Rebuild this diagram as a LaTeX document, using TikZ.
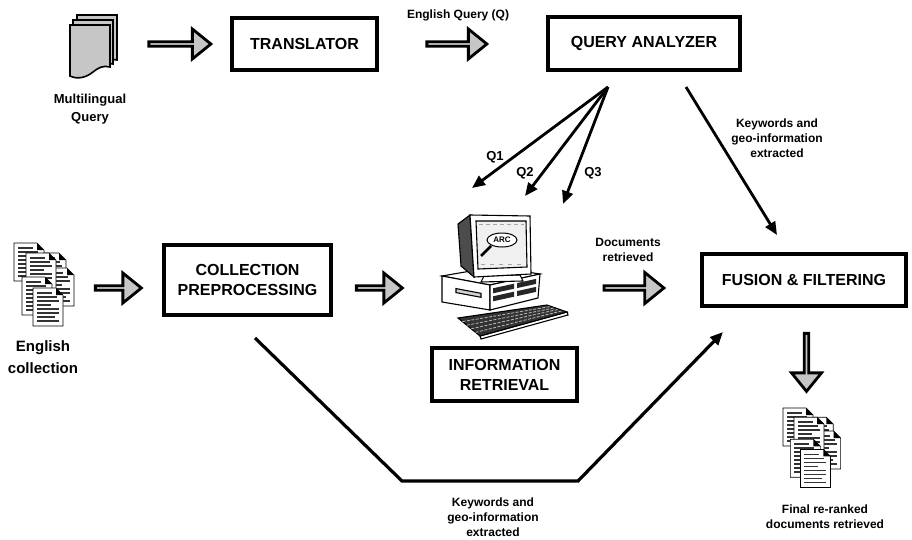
\documentclass[tikz,border=0pt]{standalone}
\usepackage{fontspec}
\setmainfont{Liberation Sans}
\usetikzlibrary{arrows.meta,shapes.arrows}

\tikzset{
  procbox/.style={draw, line width=3.5pt, fill=white, align=center, inner sep=0pt,
    font=\bfseries\fontsize{16}{20}\selectfont},
  fatarrow/.style={single arrow, draw, line width=2.8pt, fill=gray!45, inner sep=0pt,
    single arrow head extend=8pt, single arrow tip angle=78, minimum width=30pt},
  flow/.style={line width=2.8pt, -{Triangle[length=13pt,width=11pt]}},
  lbl/.style={align=center, inner sep=0pt, font=\bfseries\fontsize{12}{15}\selectfont},
  qlbl/.style={inner sep=0pt, font=\bfseries\fontsize{13}{15}\selectfont},
  iconlbl/.style={align=center, inner sep=0pt, font=\bfseries\fontsize{13}{18}\selectfont},
  biglbl/.style={align=center, inner sep=0pt, font=\bfseries\fontsize{15}{22}\selectfont},
  textline/.style={line width=1.6pt, black!80},
  docpage/.pic={
    \fill[white] (0,0) -- (23,0) -- (30,7) -- (30,38) -- (0,38) -- cycle;
    \draw[line width=.7pt] (0,0) -- (23,0) -- (30,7) -- (30,38) -- (0,38) -- cycle;
    \fill (23,0) -- (30,7) -- (23,7) -- cycle;
    \foreach \yy/\ll in {5/15, 9/20, 13/22, 17/14, 21/22, 25/22, 29/18, 33/22}
      \draw[textline] (4,\yy) -- ++(\ll,0);
  },
  docstack/.pic={
    \pic at (22,10) {docpage};
    \pic at (30,25) {docpage};
    \pic at (0,0) {docpage};
    \pic at (12,10) {docpage};
    \pic at (8,34) {docpage};
    \pic at (19,45) {docpage};
  },
}

\begin{document}
\begin{tikzpicture}[x=1pt, y=-1pt]
\useasboundingbox (0,0) rectangle (912,540);

% ---------- multilingual query: three sheets with a wavy lower edge ----------
\begin{scope}[fill=gray!45, line width=1.6pt]
  \filldraw (77,15) -- (117,15) -- (117,60) .. controls (110,58) and (104,60) .. (98,66)
            -- (77,66) -- cycle;
  \filldraw (73,20) -- (113,20) -- (113,64) .. controls (106,62) and (100,64) .. (94,70)
            -- (73,70) -- cycle;
  \filldraw (70,25) -- (110,25) -- (110,67) .. controls (103,65) and (98,68) .. (93,72)
            .. controls (87,77) and (78,80) .. (70,76) -- cycle;
\end{scope}
\node[iconlbl] (mq) at (90,109) {Multilingual\\Query};

% ---------- document stacks ----------
\pic (encoll) at (14,243) {docstack};
\node[biglbl] (eclbl) at (43,357) {English\\collection};
\pic[scale=.92] (final) at (783,408) {docstack};
\node[lbl] (fdlbl) at (825,517) {Final re-ranked\\documents retrieved};

% ---------- process boxes ----------
\node[procbox, minimum width=145pt, minimum height=52pt] (tr) at (304.5,44) {TRANSLATOR};
\node[procbox, minimum width=192pt, minimum height=53pt] (qa) at (644,43.5) {QUERY ANALYZER};
\node[procbox, minimum width=167pt, minimum height=70pt] (cp) at (247.5,280) {COLLECTION\\PREPROCESSING};
\node[procbox, minimum width=145pt, minimum height=53pt] (ir) at (504.5,374.5) {INFORMATION\\RETRIEVAL};
\node[procbox, minimum width=204pt, minimum height=52pt] (ff) at (804,280) {FUSION \& FILTERING};

% ---------- broad grey arrows ----------
\node[fatarrow, minimum height=62pt] (a1) at (178.5,44) {};
\node[fatarrow, minimum height=60pt] (a2) at (455.5,44) {};
\node[fatarrow, minimum height=46pt] (a3) at (117,288) {};
\node[fatarrow, minimum height=46pt] (a4) at (378,288) {};
\node[fatarrow, minimum height=60pt, minimum width=31pt] (a5) at (632.5,288) {};
\node[fatarrow, minimum height=58pt, shape border rotate=270] (a6) at (806.5,361) {};

\node[lbl] (eq) at (458,15) {English Query (Q)};
\node[lbl] (dr) at (628,250) {Documents\\retrieved};

% ---------- computer ----------
\begin{scope}[line width=1.1pt]
  % base unit
  \filldraw[fill=white] (442,276) -- (494,267) -- (540,274) -- (490,285) -- cycle;
  \filldraw[fill=white] (442,276) -- (490,285) -- (490,310) -- (442,302) -- cycle;
  \filldraw[fill=white] (490,285) -- (540,274) -- (538,298) -- (490,310) -- cycle;
  \filldraw[fill=gray!35] (456,288.6) -- (481,293.3) -- (481,297.3) -- (456,292.6) -- cycle;
  \fill[black!85] (493,288.3) -- (514,283.7) -- (514,288.7) -- (493,293.3) -- cycle;
  \fill[black!85] (517,283.1) -- (536,278.9) -- (536,283.9) -- (517,288.1) -- cycle;
  \fill[black!85] (493,296.3) -- (514,291.7) -- (514,296.7) -- (493,301.3) -- cycle;
  \fill[black!85] (517,291.1) -- (536,286.9) -- (536,291.9) -- (517,296.1) -- cycle;
  % monitor stand
  \filldraw[fill=white] (484,276) -- (520,275) -- (523,281) -- (481,282) -- cycle;
  % monitor housing and screen
  \filldraw[fill=black!70] (458,224) -- (470,215) -- (474,277) -- (461,266) -- cycle;
  \filldraw[fill=white] (470,215) -- (530,216) -- (531,274) -- (474,277) -- cycle;
  \filldraw[fill=gray!12] (476,221) -- (526,221) -- (527,267) -- (478,269) -- cycle;
  \draw[gray!70, line width=.6pt, dash pattern=on 4pt off 3pt] (479,224) -- (524,224);
  \draw[gray!70, line width=.6pt, dash pattern=on 4pt off 5pt] (481,264) -- (524,264);
  \draw[line width=2.8pt] (491,246) -- (481,256);
  \filldraw[fill=white, line width=1pt] (502,240) ellipse [x radius=15, y radius=7];
  \node[inner sep=0pt, font=\bfseries\fontsize{8}{8}\selectfont] (arc) at (502,240) {ARC};
  % keyboard
  \filldraw[fill=white] (480,336) -- (567,312) -- (568,315) -- (481,339) -- cycle;
  \filldraw[fill=black!80] (458,318) -- (547,305) -- (567,312) -- (480,336) -- cycle;
  \foreach \ax/\ay/\bx/\by in {462.4/321.6/551/306.4, 466.8/325.2/555/307.8,
                               471.2/328.8/559/309.2, 475.6/332.4/563/310.6}
    \draw[gray!55, line width=.8pt, dash pattern=on 3pt off 1.5pt] (\ax,\ay) -- (\bx,\by);
\end{scope}

% ---------- query fan-out to retrieval ----------
\coordinate (qa-out) at (608,87);
\coordinate (q1t) at (472,188);
\coordinate (q2t) at (525,196);
\coordinate (q3t) at (563,204);
\draw[flow] (qa-out) -- (q1t);
\draw[flow] (qa-out) -- (q2t);
\draw[flow] (qa-out) -- (q3t);
\node[qlbl] (q1) at (495,157) {Q1};
\node[qlbl] (q2) at (525,173) {Q2};
\node[qlbl] (q3) at (593,173) {Q3};

% ---------- keywords from the query analyzer ----------
\coordinate (qa-kw) at (686,87);
\coordinate (ff-kw) at (777,235);
\draw[flow] (qa-kw) -- (ff-kw);
\node[lbl] (kw1) at (777,138) {Keywords and\\geo-information\\extracted};

% ---------- keywords from the collection ----------
\coordinate (cp-out) at (255,338);
\coordinate (ff-in) at (723,332);
\draw[flow, line width=3.2pt] (cp-out) -- (402,481) -- (578,481) -- (ff-in);
\node[lbl] (kw2) at (493,517) {Keywords and\\geo-information\\extracted};

\end{tikzpicture}
\end{document}
